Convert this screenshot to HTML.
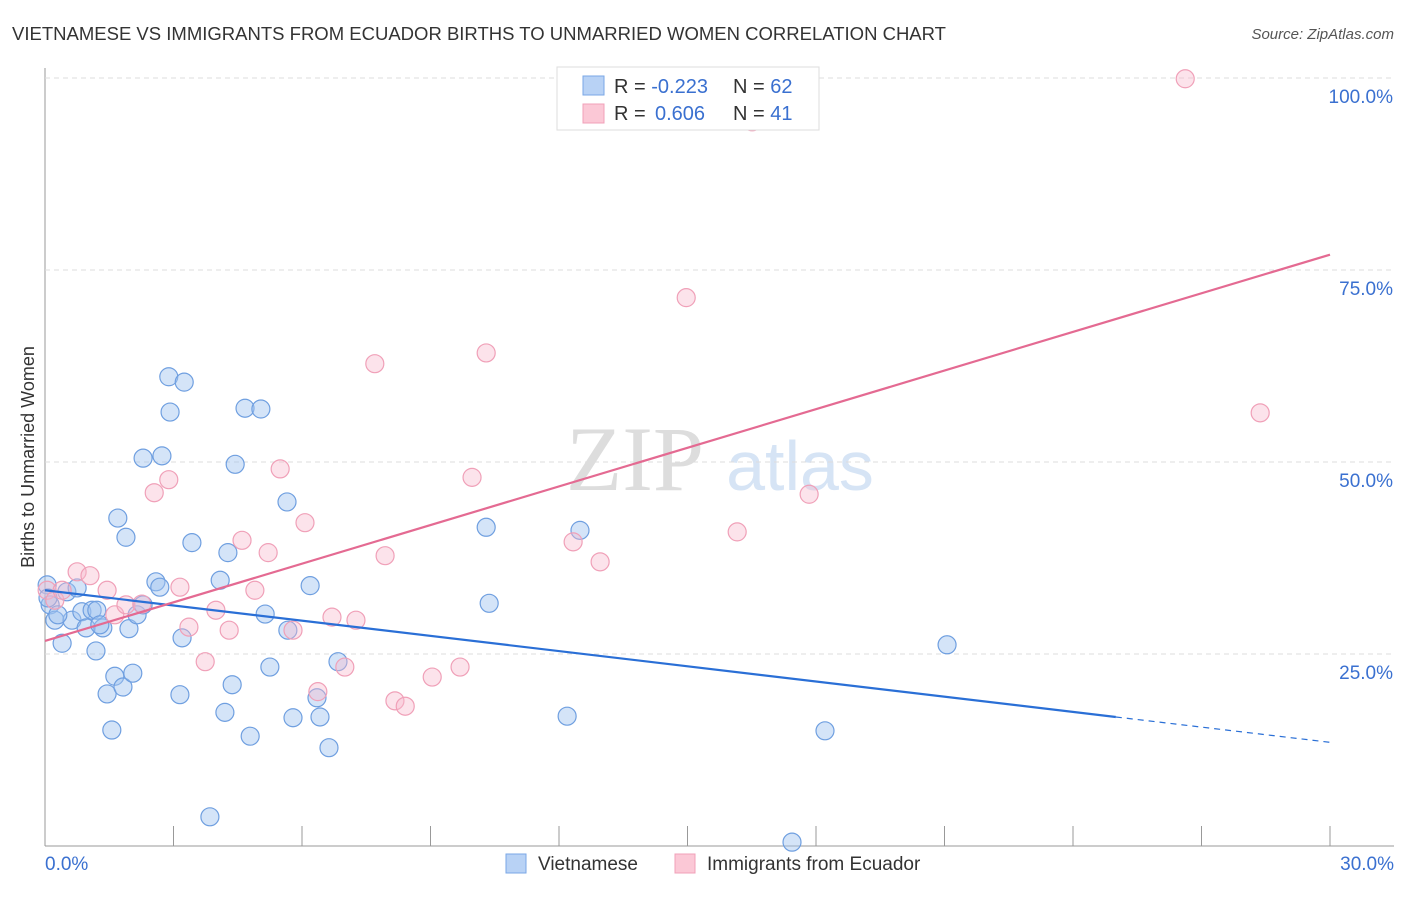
<!DOCTYPE html>
<html><head><meta charset="utf-8"><style>
body{margin:0;background:#fff;font-family:"Liberation Sans",sans-serif}
</style></head><body>
<svg id="c" width="1406" height="892" xmlns="http://www.w3.org/2000/svg">
<text x="12" y="40" font-size="18" fill="#333" textLength="934" lengthAdjust="spacingAndGlyphs">VIETNAMESE VS IMMIGRANTS FROM ECUADOR BIRTHS TO UNMARRIED WOMEN CORRELATION CHART</text>
<text x="1394" y="39" font-size="15" fill="#555" font-style="italic" text-anchor="end">Source: ZipAtlas.com</text>
<text x="635" y="490" font-size="92" fill="#ddd" font-family="Liberation Serif,serif" text-anchor="middle">ZIP</text>
<text x="800" y="490" font-size="70" fill="#d6e4f5" text-anchor="middle">atlas</text>
<text transform="translate(34,457) rotate(-90)" font-size="18" fill="#333" text-anchor="middle">Births to Unmarried Women</text>
<g id="grid"></g><g id="pts"></g><g id="lines"></g>
<g>
<rect x="557" y="67" width="262" height="63" fill="#fff" stroke="#ddd"/>
<rect x="583" y="76" width="21" height="19" fill="#b8d2f5" stroke="#7aa7e6"/>
<rect x="583" y="104" width="21" height="19" fill="#fbc8d6" stroke="#f0a0b8"/>
<text x="614" y="93" font-size="20" fill="#333">R = <tspan fill="#3a70d0">-0.223</tspan><tspan x="733">N = </tspan><tspan fill="#3a70d0">62</tspan></text>
<text x="614" y="120" font-size="20" fill="#333">R = <tspan x="655" fill="#3a70d0">0.606</tspan><tspan x="733">N = </tspan><tspan fill="#3a70d0">41</tspan></text>
</g>
<g>
<rect x="506" y="854" width="20" height="19" fill="#b8d2f5" stroke="#7aa7e6"/>
<text x="538" y="870" font-size="19" fill="#333">Vietnamese</text>
<rect x="675" y="854" width="20" height="19" fill="#fbc8d6" stroke="#f0a0b8"/>
<text x="707" y="870" font-size="19" fill="#333">Immigrants from Ecuador</text>
</g>
</svg>
<script>
const blueX=[0.05,0.12,0.23,0.4,0.51,0.63,0.75,0.86,0.96,1.1,1.21,1.19,1.35,1.45,1.56,1.63,1.7,1.82,1.89,1.96,2.05,2.15,2.29,2.29,2.59,2.68,2.73,2.89,2.92,3.15,3.2,3.25,3.43,3.85,4.09,4.2,4.27,4.37,4.44,4.67,4.79,5.04,5.14,5.25,5.65,5.67,5.79,6.19,6.35,6.42,6.63,6.84,10.3,10.37,12.19,12.49,17.44,18.21,21.06,0.07,0.3,1.28];
const blueY=[34.0,31.4,29.4,26.4,33.1,29.4,33.6,30.5,28.4,30.7,30.7,25.4,28.4,19.8,15.1,22.1,42.7,20.7,40.2,28.3,22.5,30.1,31.4,50.5,34.4,33.7,50.8,61.1,56.5,19.7,27.1,60.4,39.5,3.8,34.6,17.4,38.2,21.0,49.7,57.0,14.3,56.9,30.2,23.3,44.8,28.1,16.7,33.9,19.3,16.8,12.8,24.0,41.5,31.6,16.9,41.1,0.5,15.0,26.2,32.3,30.1,28.8];
const pinkX=[0.05,0.23,0.4,0.75,1.05,1.45,1.63,1.89,2.26,2.55,2.89,3.15,3.36,3.74,3.99,4.3,4.6,4.9,5.21,5.49,5.79,6.07,6.37,6.7,7.0,7.26,7.7,7.94,8.17,8.41,9.04,9.69,9.97,10.3,12.33,12.96,14.97,16.16,16.51,17.84,26.62,28.37];
const pinkY=[33.3,32.0,33.3,35.7,35.2,33.3,30.1,31.4,31.5,46.0,47.7,33.7,28.5,24.0,30.7,28.1,39.8,33.3,38.2,49.1,28.1,42.1,20.1,29.8,23.3,29.4,62.8,37.8,18.9,18.2,22.0,23.3,48.0,64.2,39.6,37.0,71.4,40.9,94.3,45.8,99.9,56.4];
const blueTrend=[33.3,13.5], blueSolidEnd=25;
const pinkTrend=[26.7,77.0];
const yTicks=[25,50,75,100];
const xTicks=[0,3,6,9,12,15,18,21,24,27,30];
const NS='http://www.w3.org/2000/svg';
const X=v=>45+v/30*1285, Y=v=>846-v/100*768;
function mk(tag,at,parent){const e=document.createElementNS(NS,tag);for(const k in at)e.setAttribute(k,at[k]);document.getElementById(parent).appendChild(e);return e;}
const ax=mk('line',{x1:45,y1:68,x2:45,y2:846,stroke:'#999'},'grid');


const bx=mk('line',{x1:45,y1:846,x2:1394,y2:846,stroke:'#999'},'grid');


yTicks.forEach(t=>{
 const g=mk('line',{x1:45,y1:Y(t),x2:1394,y2:Y(t),stroke:'#ddd','stroke-dasharray':'5,4'},'grid');
 
 
 const l=mk('text',{x:1393,y:Y(t)+25,'font-size':19,fill:'#3a70d0','text-anchor':'end'},'grid');
 l.textContent=t.toFixed(1)+'%';
 
 
});
xTicks.forEach(t=>{
 const m=mk('line',{x1:X(t),y1:826,x2:X(t),y2:846,stroke:'#999'},'grid');
 
 
});
[[0,'start',45],[30,'end',1394]].forEach(([t,a,x])=>{
 const l=mk('text',{x:x,y:870,'font-size':19,fill:'#3a70d0','text-anchor':a},'grid');
 l.textContent=t.toFixed(1)+'%';
 
 
});
blueX.forEach((v,i)=>{
 const c=mk('circle',{cx:X(v),cy:Y(blueY[i]),r:9,fill:'rgba(160,195,240,0.45)',stroke:'#6f9fe0','stroke-width':1.2},'pts');
 
 
});
pinkX.forEach((v,i)=>{
 const c=mk('circle',{cx:X(v),cy:Y(pinkY[i]),r:9,fill:'rgba(248,185,205,0.4)',stroke:'#f0a0b8','stroke-width':1.2},'pts');
 
 
});
const by=x=>blueTrend[0]+(blueTrend[1]-blueTrend[0])*x/30;
const b1=mk('line',{x1:X(0),y1:Y(by(0)),x2:X(blueSolidEnd),y2:Y(by(blueSolidEnd)),stroke:'#2a6fd6','stroke-width':2.2},'lines');


const b2=mk('line',{x1:X(blueSolidEnd),y1:Y(by(blueSolidEnd)),x2:X(30),y2:Y(by(30)),stroke:'#2a6fd6','stroke-width':1.2,'stroke-dasharray':'6,5'},'lines');


const p1=mk('line',{x1:X(0),y1:Y(pinkTrend[0]),x2:X(30),y2:Y(pinkTrend[1]),stroke:'#e46a92','stroke-width':2.2},'lines');


</script>
</body></html>
